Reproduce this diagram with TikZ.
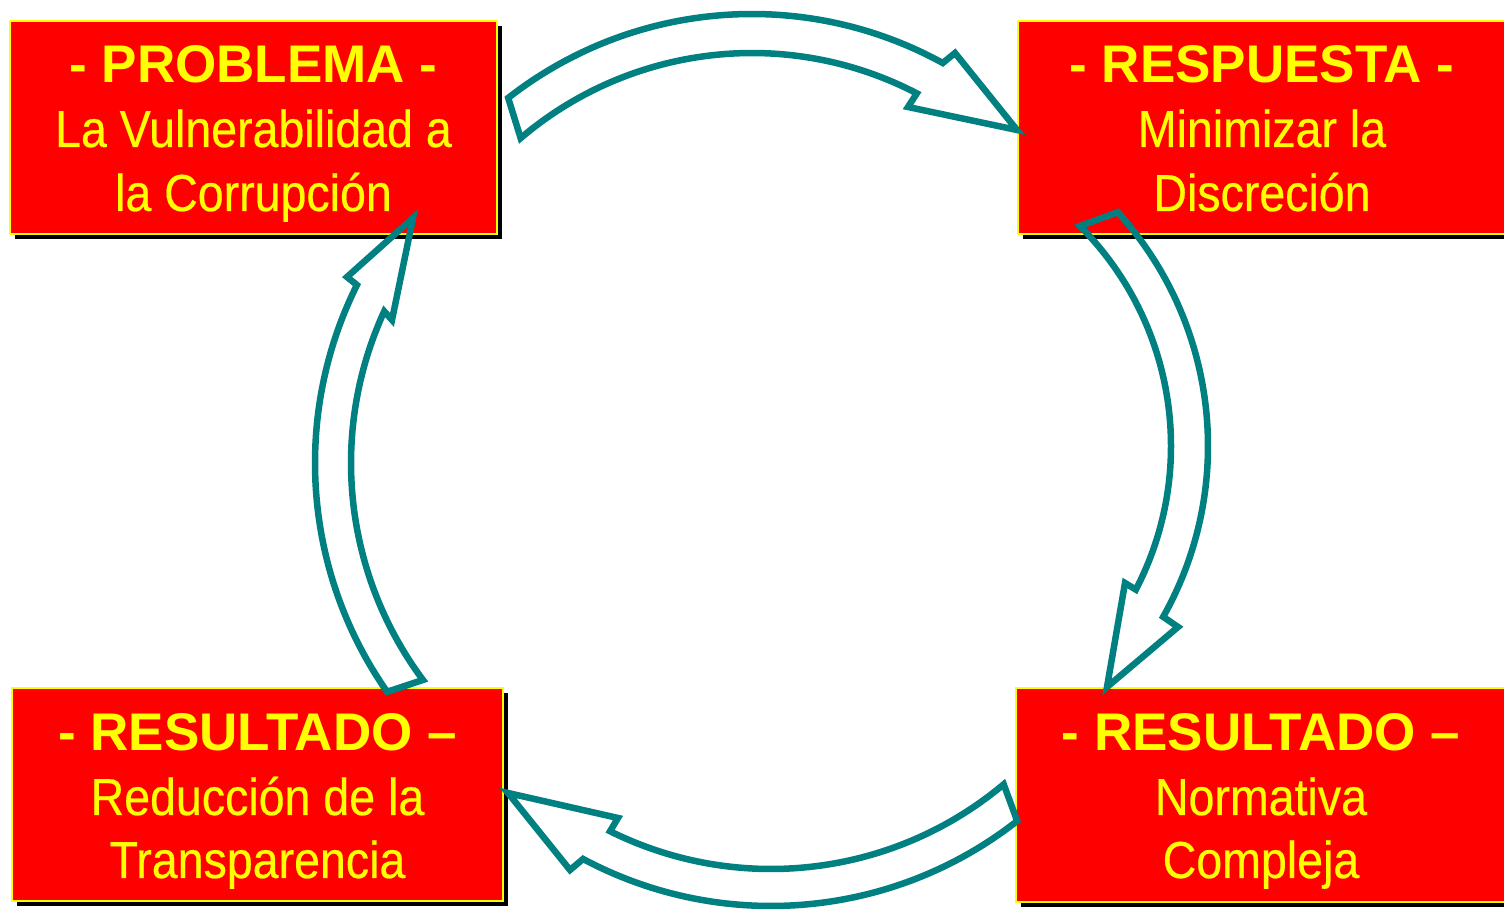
\documentclass[tikz,border=0pt]{standalone}
\usepackage{fontspec}
\setmainfont{Liberation Sans}
\newfontfamily\bodfont{Liberation Sans}[FakeStretch=0.895,FakeBold=0.4]
\usetikzlibrary{calc,shadows}
\definecolor{boxred}{RGB}{255,0,0}
\definecolor{boxyel}{RGB}{255,255,0}
\definecolor{arrteal}{RGB}{0,128,128}
\tikzset{
  cbox/.style={rectangle, fill=boxred, draw=boxyel, line width=2pt, inner sep=0pt, outer sep=0pt,
    drop shadow={shadow xshift=5pt, shadow yshift=-5pt, fill=black, opacity=1}},
  ttl/.style={anchor=base, text=boxyel, inner sep=0pt, font=\fontsize{53pt}{64pt}\selectfont\bfseries},
  bod/.style={anchor=base, text=boxyel, inner sep=0pt, font=\bodfont\fontsize{52pt}{64pt}\selectfont},
  carrow/.style={draw=arrteal, line width=6.5pt, line join=miter},
}
\begin{document}
\begin{tikzpicture}[x=1pt,y=1pt]
\useasboundingbox (0,0) rectangle (1504,910);
\clip (0,0) rectangle (1504,910);
\fill[white] (0,0) rectangle (1504,910);

% boxes
\node[cbox, minimum width=487pt, minimum height=213pt] (prob) at (253.5,782.5) {};
\node[cbox, minimum width=488pt, minimum height=213pt] (resp) at (1262,782.5) {};
\node[cbox, minimum width=491pt, minimum height=213pt] (transp) at (257.5,115.5) {};
\node[cbox, minimum width=490pt, minimum height=214pt] (norm) at (1261,115) {};

% texts
\node[ttl] (prob-t) at ($(prob.north)+(0,-62)$) {- PROBLEMA -};
\node[bod] (prob-a) at ($(prob.north)+(0,-126)$) {La Vulnerabilidad a};
\node[bod] (prob-b) at ($(prob.north)+(0,-190)$) {la Corrupción};

\node[ttl] (resp-t) at ($(resp.north)+(0,-62)$) {- RESPUESTA -};
\node[bod] (resp-a) at ($(resp.north)+(0,-126)$) {Minimizar la};
\node[bod] (resp-b) at ($(resp.north)+(0,-190)$) {Discreción};

\node[ttl] (transp-t) at ($(transp.north)+(0,-63)$) {- RESULTADO –};
\node[bod] (transp-a) at ($(transp.north)+(0,-127)$) {Reducción de la};
\node[bod] (transp-b) at ($(transp.north)+(0,-190)$) {Transparencia};

\node[ttl] (norm-t) at ($(norm.north)+(0,-63)$) {- RESULTADO –};
\node[bod] (norm-a) at ($(norm.north)+(0,-127)$) {Normativa};
\node[bod] (norm-b) at ($(norm.north)+(0,-190)$) {Compleja};

% curved block arrows
\coordinate (ctop) at (752,500);
\draw[carrow] ($(ctop)+(128:396)$) arc[start angle=128, end angle=61.2, radius=396]
  -- (955,857) -- (1017,780) -- (908,803)
  -- ($(ctop)+(62.5:357)$) arc[start angle=62.5, end angle=130.4, radius=357] -- cycle;

\coordinate (cright) at (860,464);
\draw[carrow] ($(cright)+(42.2:348)$) arc[start angle=42.2, end angle=-29.4, radius=348]
  -- (1178,283) -- (1107,223) -- (1125,327)
  -- ($(cright)+(-27.5:311)$) arc[start angle=-27.5, end angle=45, radius=311] -- cycle;

\coordinate (cbot) at (771,403);
\draw[carrow] ($(cbot)+(-51.9:399)$) arc[start angle=-51.9, end angle=-118.1, radius=399]
  -- (570,40) -- (508,117) -- (618,92)
  -- ($(cbot)+(-116.4:362)$) arc[start angle=-116.4, end angle=-50, radius=362] -- cycle;

\coordinate (cleft) at (714,447);
\draw[carrow] ($(cleft)+(215:399)$) arc[start angle=215, end angle=153.5, radius=399]
  -- (347,633) -- (413,692) -- (392,590)
  -- ($(cleft)+(155.3:363)$) arc[start angle=155.3, end angle=216.7, radius=363] -- cycle;
\end{tikzpicture}
\end{document}
